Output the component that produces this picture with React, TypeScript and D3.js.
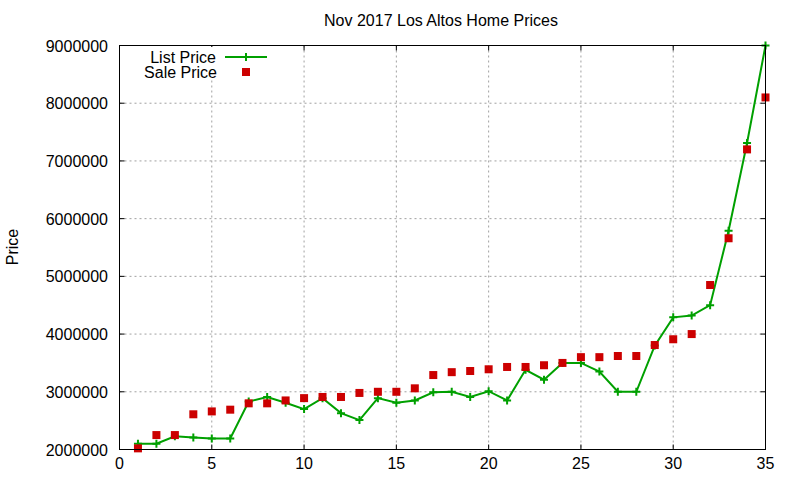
import { useEffect, useRef } from "react";
import * as d3 from "d3";

// Nov 2017 Los Altos home prices, one entry per listing (index 1..35)
const listPrice = [
  2100000, 2100000, 2230000, 2210000, 2190000, 2190000, 2830000, 2910000, 2810000, 2700000,
  2890000, 2630000, 2510000, 2890000, 2810000, 2850000, 2990000, 3000000, 2910000, 3010000,
  2850000, 3380000, 3210000, 3500000, 3500000, 3350000, 3000000, 3000000, 3800000, 4290000,
  4320000, 4500000, 5790000, 7310000, 9000000,
];

const salePrice = [
  2020000, 2250000, 2250000, 2610000, 2660000, 2690000, 2800000, 2800000, 2850000, 2890000,
  2910000, 2910000, 2980000, 3000000, 3000000, 3060000, 3290000, 3340000, 3360000, 3390000,
  3430000, 3430000, 3460000, 3500000, 3600000, 3600000, 3620000, 3620000, 3810000, 3910000,
  4000000, 4850000, 5660000, 7200000, 8100000,
];

const xTicks = [0, 5, 10, 15, 20, 25, 30, 35];
const yTicks = [2000000, 3000000, 4000000, 5000000, 6000000, 7000000, 8000000, 9000000];

const App = () => {
  const ref = useRef(null);

  useEffect(() => {
    if (!ref.current) return;
    d3.select(ref.current).selectAll("*").remove();

    const width = 800;
    const height = 480;
    const left = 119.5;
    const right = 765.5;
    const top = 45.5;
    const bottom = 449.5;
    const font = "'Liberation Sans', Arial, sans-serif";
    const green = "#00a000";
    const red = "#cc0000";

    const svg = d3
      .select(ref.current)
      .append("svg")
      .attr("width", width)
      .attr("height", height)
      .style("display", "block")
      .style("background", "#fff");

    const x = d3.scaleLinear().domain([0, 35]).range([left, right]);
    const y = d3.scaleLinear().domain([2000000, 9000000]).range([bottom, top]);

    // grid
    const grid = svg.append("g").attr("stroke", "#a0a0a0").attr("stroke-dasharray", "2 3");
    xTicks.slice(1, -1).forEach((t) => {
      grid.append("line").attr("x1", x(t)).attr("x2", x(t)).attr("y1", top).attr("y2", bottom);
    });
    yTicks.slice(1, -1).forEach((t) => {
      grid.append("line").attr("x1", left).attr("x2", right).attr("y1", y(t)).attr("y2", y(t));
    });

    // ticks on all four sides, pointing inward
    const ticks = svg.append("g").attr("stroke", "#000");
    xTicks.forEach((t) => {
      ticks.append("line").attr("x1", x(t)).attr("x2", x(t)).attr("y1", bottom).attr("y2", bottom - 5);
      ticks.append("line").attr("x1", x(t)).attr("x2", x(t)).attr("y1", top).attr("y2", top + 5);
    });
    yTicks.forEach((t) => {
      ticks.append("line").attr("x1", left).attr("x2", left + 5).attr("y1", y(t)).attr("y2", y(t));
      ticks.append("line").attr("x1", right).attr("x2", right - 5).attr("y1", y(t)).attr("y2", y(t));
    });

    // tick labels
    svg
      .append("g")
      .selectAll("text")
      .data(xTicks)
      .enter()
      .append("text")
      .attr("x", (d) => x(d))
      .attr("y", 469)
      .attr("text-anchor", "middle")
      .style("font-family", font)
      .style("font-size", "16px")
      .text((d) => d);

    svg
      .append("g")
      .selectAll("text")
      .data(yTicks)
      .enter()
      .append("text")
      .attr("x", 108)
      .attr("y", (d) => y(d) + 6)
      .attr("text-anchor", "end")
      .style("font-family", font)
      .style("font-size", "16px")
      .text((d) => d);

    // title and axis label
    svg
      .append("text")
      .attr("x", 441)
      .attr("y", 26)
      .attr("text-anchor", "middle")
      .style("font-family", font)
      .style("font-size", "16px")
      .text("Nov 2017 Los Altos Home Prices");

    svg
      .append("text")
      .attr("transform", "translate(18, 247) rotate(-90)")
      .attr("text-anchor", "middle")
      .style("font-family", font)
      .style("font-size", "16px")
      .text("Price");

    // legend background
    svg.append("rect").attr("x", 140).attr("y", 47).attr("width", 135).attr("height", 31).attr("fill", "#fff");

    // list price line
    const idx = listPrice.map((_, i) => i + 1);
    const line = d3
      .line<number>()
      .x((d) => x(d))
      .y((d) => y(listPrice[d - 1]));

    svg
      .append("path")
      .attr("d", line(idx))
      .attr("fill", "none")
      .attr("stroke", green)
      .attr("stroke-width", 2);

    const plus = (g, cx, cy) => {
      g.append("path")
        .attr("d", `M${cx - 4},${cy}H${cx + 4}M${cx},${cy - 4}V${cy + 4}`)
        .attr("stroke", green)
        .attr("stroke-width", 2);
    };

    const plusG = svg.append("g");
    idx.forEach((i) => plus(plusG, x(i), y(listPrice[i - 1])));

    // sale price squares
    svg
      .append("g")
      .selectAll("rect")
      .data(salePrice)
      .enter()
      .append("rect")
      .attr("x", (_, i) => x(i + 1) - 4)
      .attr("y", (d) => y(d) - 4)
      .attr("width", 8)
      .attr("height", 8)
      .attr("fill", red);

    // legend
    svg
      .append("text")
      .attr("x", 216)
      .attr("y", 63)
      .attr("text-anchor", "end")
      .style("font-family", font)
      .style("font-size", "16px")
      .text("List Price");
    svg
      .append("line")
      .attr("x1", 225)
      .attr("x2", 267)
      .attr("y1", 57)
      .attr("y2", 57)
      .attr("stroke", green)
      .attr("stroke-width", 2);
    plus(svg, 246, 57);

    svg
      .append("text")
      .attr("x", 217)
      .attr("y", 78)
      .attr("text-anchor", "end")
      .style("font-family", font)
      .style("font-size", "16px")
      .text("Sale Price");
    svg.append("rect").attr("x", 242).attr("y", 68).attr("width", 8).attr("height", 8).attr("fill", red);

    // frame
    svg
      .append("rect")
      .attr("x", left)
      .attr("y", top)
      .attr("width", right - left)
      .attr("height", bottom - top)
      .attr("fill", "none")
      .attr("stroke", "#000");
  }, []);

  return <div ref={ref} style={{ position: "fixed", left: 0, top: 0 }}></div>;
};

export default App;
